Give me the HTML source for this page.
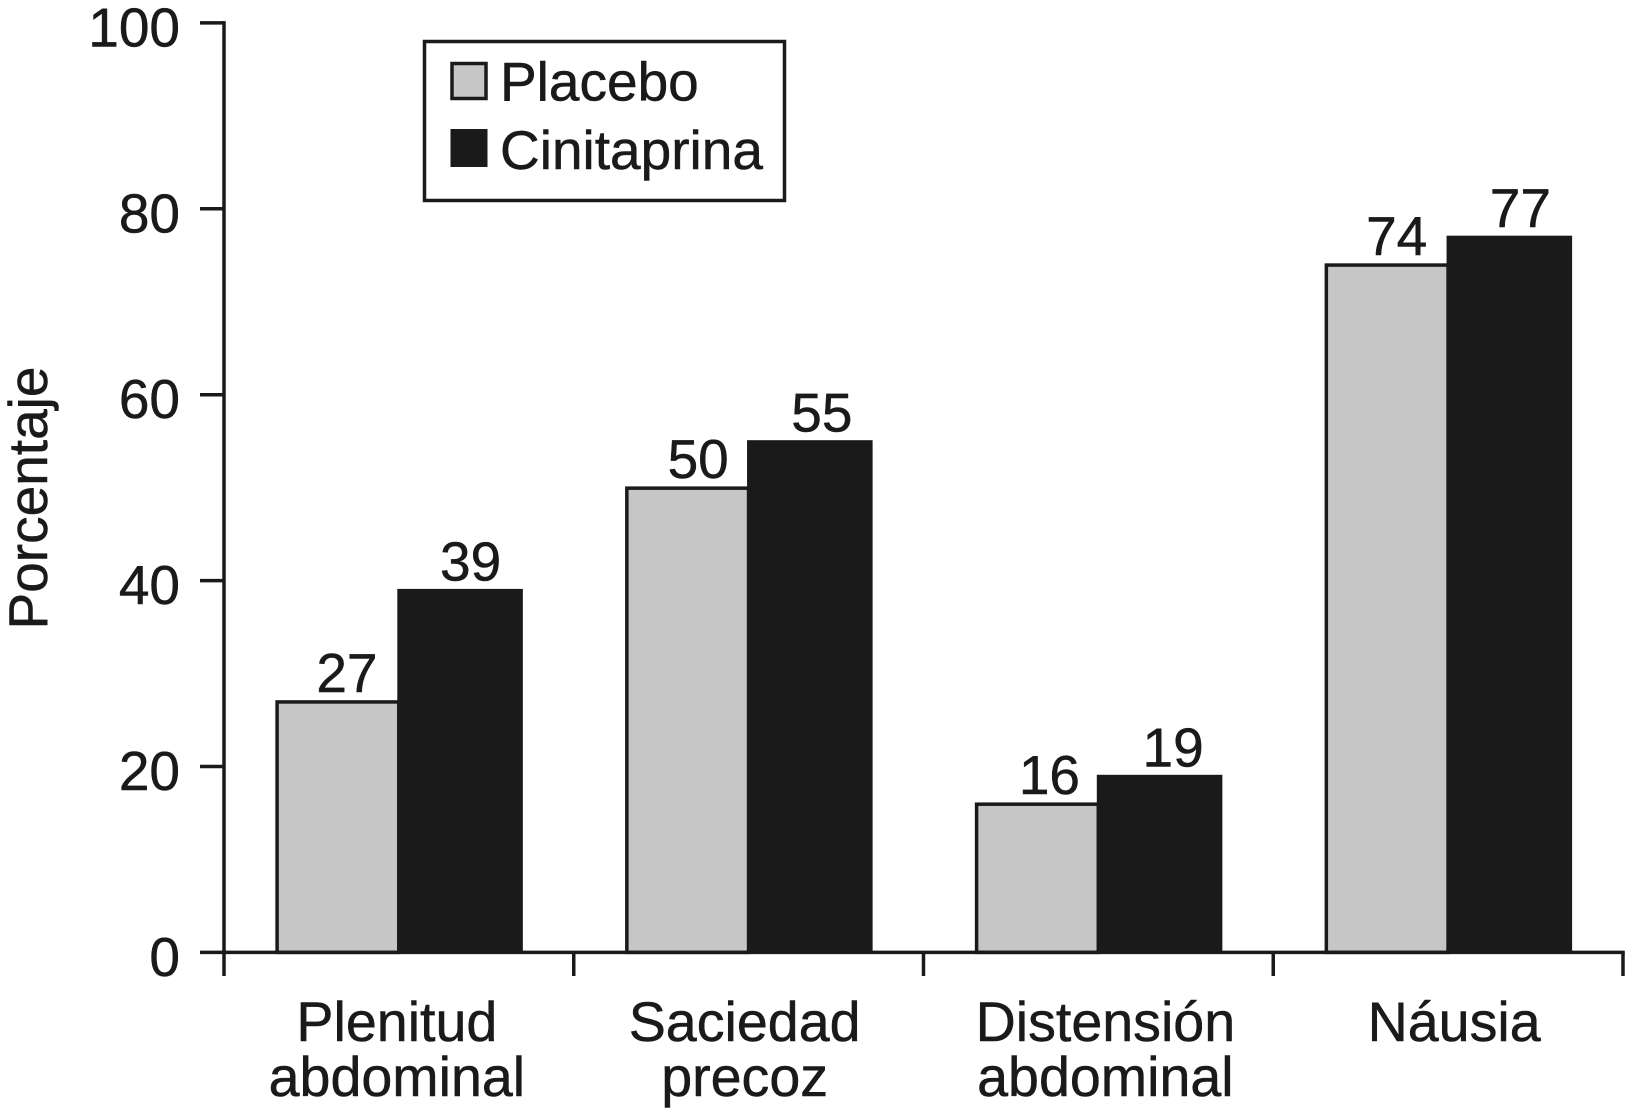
<!DOCTYPE html>
<html lang="es">
<head>
<meta charset="utf-8">
<title>Porcentaje de síntomas: placebo y cinitaprina</title>
<style>
  html, body { margin: 0; padding: 0; background: #fff; }
  svg { display: block; }
  text { font-family: "Liberation Sans", Arial, sans-serif; font-size: 55px; fill: #1a1a1a; stroke: #1a1a1a; stroke-width: 0.5px; }
  text.cat { font-size: 55.6px; }
</style>
</head>
<body>
<svg id="chart" xmlns="http://www.w3.org/2000/svg" width="1625" height="1114" viewBox="0 0 1625 1114">
  <rect x="0" y="0" width="1625" height="1114" fill="#ffffff"/>
  <text transform="translate(47 498) rotate(-90)" text-anchor="middle">Porcentaje</text>
  <g id="plot"></g>
  <g>
    <rect x="424.5" y="41.5" width="360" height="159" fill="#ffffff" stroke="#1a1a1a" stroke-width="3.5"/>
    <rect x="452" y="63.5" width="34" height="35" fill="#c6c6c6" stroke="#1a1a1a" stroke-width="3.5"/>
    <text x="500" y="100.5">Placebo</text>
    <rect x="450.5" y="129" width="37" height="38" fill="#1a1a1a"/>
    <text x="500" y="169">Cinitaprina</text>
  </g>
</svg>
<script>
const categories = [["Plenitud", "abdominal"], ["Saciedad", "precoz"], ["Distensión", "abdominal"], ["Náusia"]];
const placeboValues = [27, 50, 16, 74];
const cinitaprinaValues = [39, 55, 19, 77];
const yTickValues = [0, 20, 40, 60, 80, 100];

const SVG_NS = "http://www.w3.org/2000/svg";
const plot = document.getElementById("plot");
const INK = "#1a1a1a";
const LINE = 3.5;
const axisLeft = 224, axisRight = 1623, yZero = 952.4, yTop = 22.9;
const yMax = yTickValues[yTickValues.length - 1];

function yScale(v) { return yZero - (v / yMax) * (yZero - yTop); }
function bandWidth() { return (axisRight - axisLeft) / categories.length; }
function bandStart(i) { return axisLeft + i * bandWidth(); }
function make(tag, attrs, text) {
  const el = document.createElementNS(SVG_NS, tag);
  for (const k in attrs) el.setAttribute(k, attrs[k]);
  if (text !== undefined) el.textContent = text;
  plot.appendChild(el);
  return el;
}
/* hand-placed label shifts of the original artwork, per category */
function categoryLabelShift(i) { return i === 0 ? -2 : i === 1 ? -4 : i === 2 ? 7 : 6; }
function valueLabelShift(i) { return i === 0 ? 10.5 : i === 1 ? 12 : i === 2 ? 13.5 : 11; }

/* bars */
categories.forEach(function (c, i) {
  const b = bandWidth();
  const left = bandStart(i) + b * 0.1475;
  const mid = bandStart(i) + b * 0.4955;
  const right = bandStart(i) + b * 0.8545;

  const yP = yScale(placeboValues[i]);
  const barP = make("rect", { x: left + 1.5, y: yP + 0.5, width: mid - left, height: yZero - yP - 0.5, fill: "#c6c6c6", stroke: INK, "stroke-width": LINE });
  
  

  const yC = yScale(cinitaprinaValues[i]);
  const barC = make("rect", { x: mid, y: yC - 1, width: right - mid, height: yZero - yC + 1, fill: INK });
  
  

  const labP = make("text", { x: (left + mid) / 2 + valueLabelShift(i), y: yP - 9.5, "text-anchor": "middle" }, String(placeboValues[i]));
  
  

  const labC = make("text", { x: (mid + right) / 2 + valueLabelShift(i), y: yC - 9.5, "text-anchor": "middle" }, String(cinitaprinaValues[i]));
  
  

  c.forEach(function (line, j) {
    const t = make("text", { class: "cat", x: bandStart(i) + b / 2 + categoryLabelShift(i), y: 1041 + j * 55, "text-anchor": "middle" }, line);
    
    
  });
});

/* y axis */
const yAxisLine = make("line", { x1: axisLeft, x2: axisLeft, y1: yTop - 1.75, y2: 976, stroke: INK, "stroke-width": LINE });



yTickValues.forEach(function (v) {
  const y = yScale(v);
  const tick = make("line", { x1: 200, x2: axisLeft, y1: y, y2: y, stroke: INK, "stroke-width": LINE });
  
  
  const lab = make("text", { x: 180, y: y + 23.5, "text-anchor": "end" }, String(v));
  
  
});

/* x axis */
const xAxisLine = make("line", { x1: axisLeft, x2: axisRight + 1.75, y1: yZero, y2: yZero, stroke: INK, "stroke-width": LINE });



for (let i = 1; i <= categories.length; i++) {
  const x = bandStart(i);
  const tick = make("line", { x1: x, x2: x, y1: yZero, y2: 976, stroke: INK, "stroke-width": LINE });
  
  
}
</script>
</body>
</html>
